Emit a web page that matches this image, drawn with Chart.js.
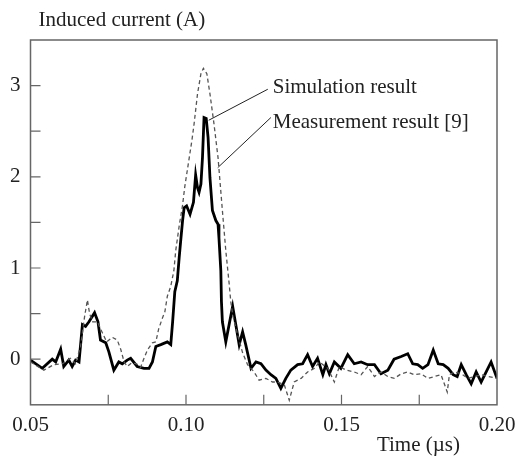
<!DOCTYPE html>
<html>
<head>
<meta charset="utf-8">
<script src="https://cdn.jsdelivr.net/npm/chart.js@4"></script>
<style>
    body { margin: 0; background: #fff; }
    canvas { display: block; }
</style>
</head>
<body>
<canvas id="currentChart" width="517" height="456"></canvas>
<script>
// simulation result (thick solid line)
const simTime = [
    0.0500, 0.0538, 0.0570, 0.0581, 0.0597, 0.0607, 0.0623, 0.0634, 0.0645, 0.0656,
    0.0667, 0.0677, 0.0688, 0.0706, 0.0717, 0.0725, 0.0742, 0.0752, 0.0768, 0.0784,
    0.0795, 0.0811, 0.0822, 0.0843, 0.0865, 0.0881, 0.0892, 0.0903, 0.0919, 0.0940,
    0.0951, 0.0957, 0.0964, 0.0972, 0.0978, 0.0983, 0.0989, 0.0994, 0.1002, 0.1013,
    0.1024, 0.1031, 0.1037, 0.1042, 0.1048, 0.1053, 0.1058, 0.1065, 0.1071, 0.1077,
    0.1085, 0.1096, 0.1103, 0.1106, 0.1112, 0.1114, 0.1117, 0.1128, 0.1150, 0.1160,
    0.1171, 0.1182, 0.1192, 0.1209, 0.1225, 0.1241, 0.1257, 0.1273, 0.1289, 0.1305,
    0.1321, 0.1337, 0.1359, 0.1375, 0.1391, 0.1407, 0.1423, 0.1440, 0.1450, 0.1461,
    0.1477, 0.1498, 0.1520, 0.1541, 0.1563, 0.1584, 0.1606, 0.1627, 0.1649, 0.1669,
    0.1692, 0.1713, 0.1729, 0.1745, 0.1761, 0.1778, 0.1795, 0.1811, 0.1827, 0.1843,
    0.1859, 0.1872, 0.1885, 0.1901, 0.1917, 0.1933, 0.1949, 0.1962, 0.1981, 0.2000
];
const simCurrent = [
    -0.01, -0.10, 0.00, -0.03, 0.11, -0.08, -0.01, -0.08, -0.01, -0.03,
    0.38, 0.36, 0.41, 0.51, 0.41, 0.21, 0.18, 0.08, -0.12, -0.03,
    -0.05, -0.01, 0.01, -0.08, -0.10, -0.10, -0.03, 0.14, 0.16, 0.19,
    0.16, 0.41, 0.74, 0.86, 1.11, 1.30, 1.52, 1.66, 1.68, 1.59,
    1.72, 2.02, 1.88, 1.83, 1.92, 2.21, 2.65, 2.64, 2.43, 1.99,
    1.63, 1.52, 1.48, 1.33, 0.97, 0.63, 0.41, 0.19, 0.58, 0.38,
    0.16, 0.30, 0.16, -0.10, -0.03, -0.05, -0.12, -0.17, -0.21, -0.32,
    -0.21, -0.12, -0.06, -0.05, 0.05, -0.08, 0.01, -0.17, -0.06, -0.16,
    -0.03, -0.10, 0.05, -0.05, -0.03, -0.06, -0.06, -0.16, -0.12, 0.00,
    0.03, 0.06, -0.05, -0.06, -0.10, -0.06, 0.10, -0.05, -0.06, -0.10,
    -0.17, -0.19, -0.06, -0.17, -0.27, -0.14, -0.25, -0.16, -0.03, -0.21
];

// measurement result [9] (thin dashed line)
const measTime = [
    0.0500, 0.0543, 0.0575, 0.0603, 0.0629, 0.0645, 0.0661, 0.0674, 0.0683, 0.0690,
    0.0700, 0.0715, 0.0731, 0.0745, 0.0763, 0.0779, 0.0790, 0.0801, 0.0811, 0.0825,
    0.0841, 0.0854, 0.0865, 0.0876, 0.0892, 0.0903, 0.0912, 0.0924, 0.0932, 0.0940,
    0.0951, 0.0961, 0.0967, 0.0978, 0.0989, 0.0996, 0.1010, 0.1019, 0.1026, 0.1037,
    0.1048, 0.1056, 0.1067, 0.1077, 0.1090, 0.1103, 0.1117, 0.1128, 0.1139, 0.1144,
    0.1151, 0.1166, 0.1182, 0.1198, 0.1219, 0.1235, 0.1257, 0.1278, 0.1295, 0.1316,
    0.1332, 0.1348, 0.1370, 0.1391, 0.1413, 0.1429, 0.1456, 0.1477, 0.1493, 0.1515,
    0.1541, 0.1563, 0.1584, 0.1606, 0.1627, 0.1649, 0.1670, 0.1692, 0.1713, 0.1734,
    0.1756, 0.1778, 0.1799, 0.1820, 0.1840, 0.1847, 0.1863, 0.1885, 0.1906, 0.1928,
    0.1949, 0.1971, 0.2000
];
const measCurrent = [
    -0.03, -0.12, -0.06, -0.05, 0.01, -0.05, 0.14, 0.47, 0.65, 0.50,
    0.41, 0.41, 0.29, 0.19, 0.24, 0.21, 0.11, -0.03, -0.08, -0.04,
    -0.05, -0.09, 0.01, 0.10, 0.18, 0.19, 0.33, 0.45, 0.52, 0.69,
    0.80, 0.97, 1.19, 1.46, 1.69, 1.89, 2.20, 2.40, 2.58, 2.91,
    3.13, 3.19, 3.13, 2.91, 2.58, 2.21, 1.63, 1.19, 0.82, 0.63,
    0.47, 0.27, 0.07, -0.06, -0.14, -0.23, -0.21, -0.25, -0.25, -0.28,
    -0.45, -0.25, -0.21, -0.14, -0.10, -0.03, -0.10, -0.25, -0.08, -0.12,
    -0.14, -0.17, -0.08, -0.19, -0.14, -0.19, -0.21, -0.16, -0.14, -0.17,
    -0.16, -0.21, -0.19, -0.17, -0.36, -0.17, -0.14, -0.16, -0.21, -0.19,
    -0.17, -0.19, -0.21
];

const FONT = "Liberation Serif";
const TEXT_COLOR = "#222";

function toPoints(xs, ys) {
    return xs.map((x, i) => ({ x: x, y: ys[i] }));
}

// box around the plot and short ticks pointing inward
const frameTicks = {
    id: "frameTicks",
    afterDraw(chart) {
        const { ctx, chartArea: { left, right, top, bottom }, scales: { x, y } } = chart;
        ctx.save();
        ctx.strokeStyle = "#666";
        ctx.lineWidth = 1.5;
        ctx.strokeRect(left, top, right - left, bottom - top);
        ctx.lineWidth = 1.2;
        ctx.beginPath();
        x.ticks.forEach(t => {
            if (t.value <= x.min || t.value >= x.max) return;
            const px = x.getPixelForValue(t.value);
            ctx.moveTo(px, bottom);
            ctx.lineTo(px, bottom - 10);
        });
        y.ticks.forEach(t => {
            if (t.value <= y.min || t.value >= y.max) return;
            const py = y.getPixelForValue(t.value);
            ctx.moveTo(left, py);
            ctx.lineTo(left + 10, py);
        });
        ctx.stroke();
        ctx.restore();
    }
};

// axis titles and the two labels with leader lines
const labels = {
    id: "labels",
    afterDraw(chart) {
        const { ctx, chartArea: { left, right, top, bottom }, scales: { x, y } } = chart;
        ctx.save();
        ctx.font = "21px '" + FONT + "'";
        ctx.fillStyle = TEXT_COLOR;
        ctx.textBaseline = "middle";
        ctx.textAlign = "left";
        ctx.fillText("Induced current (A)", left + 8, top - 20);
        ctx.textAlign = "right";
        ctx.fillText("Time (\u00b5s)", right - 37, bottom + 41);

        ctx.textAlign = "left";
        ctx.fillText("Simulation result", x.getPixelForValue(0.1279), y.getPixelForValue(2.98));
        ctx.fillText("Measurement result [9]", x.getPixelForValue(0.1279), y.getPixelForValue(2.60));

        ctx.strokeStyle = "#222";
        ctx.lineWidth = 1;
        ctx.beginPath();
        ctx.moveTo(x.getPixelForValue(0.1073), y.getPixelForValue(2.62));
        ctx.lineTo(x.getPixelForValue(0.1263), y.getPixelForValue(2.96));
        ctx.moveTo(x.getPixelForValue(0.1102), y.getPixelForValue(2.10));
        ctx.lineTo(x.getPixelForValue(0.1273), y.getPixelForValue(2.65));
        ctx.stroke();
        ctx.restore();
    }
};

const ctx = document.getElementById("currentChart").getContext("2d");
new Chart(ctx, {
    type: "line",
    data: {
        datasets: [
            {
                label: "Measurement result [9]",
                data: toPoints(measTime, measCurrent),
                borderColor: "#555",
                borderWidth: 1.3,
                borderDash: [4, 3],
                pointRadius: 0,
                tension: 0
            },
            {
                label: "Simulation result",
                data: toPoints(simTime, simCurrent),
                borderColor: "#000",
                borderWidth: 2.8,
                pointRadius: 0,
                tension: 0
            }
        ]
    },
    options: {
        responsive: false,
        animation: false,
        layout: { padding: { top: 40, left: 0, right: 20, bottom: 10 } },
        plugins: {
            legend: { display: false },
            tooltip: { enabled: false }
        },
        scales: {
            x: {
                type: "linear",
                min: 0.05,
                max: 0.20,
                grid: { display: false, drawTicks: false },
                border: { display: false },
                afterFit: scale => { scale.paddingRight = 0; },
                ticks: {
                    stepSize: 0.025,
                    autoSkip: false,
                    maxRotation: 0,
                    padding: 8,
                    color: TEXT_COLOR,
                    font: { family: FONT, size: 21 },
                    callback: v => Math.abs(v * 20 - Math.round(v * 20)) < 1e-6 ? v.toFixed(2) : ""
                }
            },
            y: {
                min: -0.5,
                max: 3.5,
                grid: { display: false, drawTicks: false },
                border: { display: false },
                ticks: {
                    stepSize: 0.5,
                    autoSkip: false,
                    padding: 10,
                    color: TEXT_COLOR,
                    font: { family: FONT, size: 21 },
                    callback: v => Number.isInteger(v) ? String(v) : ""
                }
            }
        }
    },
    plugins: [frameTicks, labels]
});
</script>
</body>
</html>
